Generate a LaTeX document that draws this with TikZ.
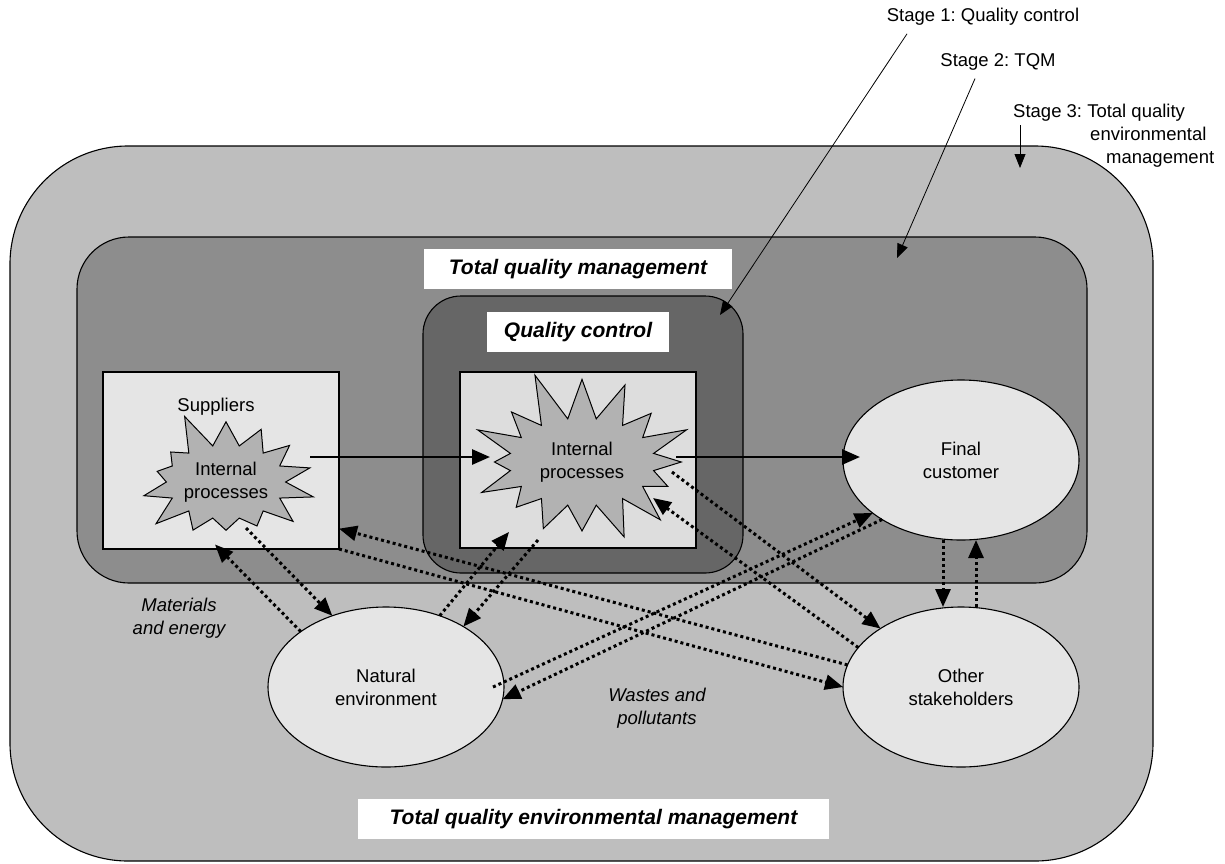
\documentclass[tikz,border=0pt]{standalone}
\usepackage{fontspec}
\setmainfont{Liberation Sans}
\usepackage{tikz}
\usetikzlibrary{arrows.meta}
\usetikzlibrary{shapes.geometric}
\usetikzlibrary{shapes.symbols}
\frenchspacing

\definecolor{tqemgray}{gray}{0.745}
\definecolor{tqmgray}{gray}{0.553}
\definecolor{qcgray}{gray}{0.40}
\definecolor{boxgray}{gray}{0.90}
\definecolor{qcboxgray}{gray}{0.865}
\definecolor{burstgray}{gray}{0.70}

\tikzset{
  stagebox/.style={draw, line width=1.1pt, outer sep=0pt, inner sep=0pt},
  labelbox/.style={fill=white, inner sep=0pt, minimum height=40pt, font=\fontsize{21}{25}\selectfont\bfseries\itshape},
  txt/.style={font=\fontsize{18.5}{23}\selectfont, align=center, inner sep=0pt},
  unitbox/.style={draw, line width=1.1pt, outer sep=0pt, inner sep=0pt, minimum width=236pt},
  party/.style={ellipse, draw, line width=1.1pt, fill=boxgray, outer sep=0pt, inner sep=0pt, minimum width=236pt, minimum height=160pt, font=\fontsize{18.5}{23}\selectfont, align=center},
  burst/.style={starburst, draw, line width=1pt, fill=burstgray, inner sep=0pt, font=\fontsize{18.5}{23}\selectfont, align=center},
  flow/.style={line width=2.8pt, -{Triangle[length=18pt,width=15pt]}},
  exchange/.style={line width=3pt, dash pattern=on 3pt off 3pt, -{Triangle[length=18pt,width=15pt]}},
  pointer/.style={line width=0.8pt, -{Triangle[length=14pt,width=11pt]}}
}

\begin{document}
\begin{tikzpicture}[x=1pt,y=-1pt]
	\useasboundingbox (0,0) rectangle (1225,863);

	\node[stagebox, fill=tqemgray, rounded corners=118pt, minimum width=1143pt, minimum height=715pt] (tqem) at (581.5,503.5) {};
	\node[stagebox, fill=tqmgray, rounded corners=52pt, minimum width=1010pt, minimum height=346pt] (tqm) at (582,410) {};
	\node[stagebox, fill=qcgray, rounded corners=38pt, minimum width=320pt, minimum height=277pt] (qc) at (583,434.5) {};

	\node[labelbox, minimum width=308pt] (tqmlabel) at (578,269) {Total quality management};
	\node[labelbox, minimum width=182pt] (qclabel) at (578,332) {Quality control};
	\node[labelbox, minimum width=471pt] (tqemlabel) at (593.5,819) {Total quality environmental management};

	\node[unitbox, fill=boxgray, minimum height=177pt] (sup) at (221,460.5) {};
	\node[unitbox, fill=qcboxgray, minimum height=176pt] (qcb) at (578,460) {};
	\node[txt] (suplabel) at (216,407) {Suppliers};
	\node[burst, starburst points=14, starburst point height=38pt, random starburst=5, minimum width=182pt, minimum height=150pt] (supb) at (226,482) {Internal\\processes};
	\node[burst, starburst points=16, starburst point height=52pt, random starburst=11, minimum width=250pt, minimum height=192pt] (qcburst) at (582,462) {Internal\\processes};

	\node[party] (fc) at (961,460) {Final\\customer};
	\node[party] (os) at (961,687) {Other\\stakeholders};
	\node[party] (nat) at (386,687) {Natural\\environment};

	\node[txt, font=\fontsize{18.5}{23}\selectfont\itshape] (mat) at (179,618) {Materials\\and energy};
	\node[txt, font=\fontsize{18.5}{23}\selectfont\itshape] (waste) at (657,708) {Wastes and\\pollutants};

	\node[txt] (stA) at (983,17) {Stage 1: Quality control};
	\node[txt] (stB) at (998,62) {Stage 2: TQM};
	\node[txt, align=left, anchor=north west] (stC) at (1013,104) {Stage 3: Total quality\\\hspace*{77pt}environmental\\\hspace*{93pt}management};

	\draw[pointer] ([shift={(-76,8)}]stA.south) -- ([shift={(-23,19)}]qc.north east);
	\draw[pointer] ([shift={(-23,8)}]stB.south) -- ([shift={(-190,21)}]tqm.north east);
	\draw[pointer] ([shift={(7,21)}]stC.north west) -- ([shift={(-133,22)}]tqem.north east);

	\draw[flow] ([shift={(89,-3.5)}]sup.center) -- ([shift={(-88,-3)}]qcb.center);
	\draw[flow] ([shift={(98,-3)}]qcb.center) -- ([shift={(-101,-3)}]fc.center);

	\draw[exchange] (nat.147) -- ([shift={(-6,84)}]sup.center);
	\draw[exchange] ([shift={(25,67.5)}]sup.center) -- (nat.127);
	\draw[exchange] (os.169) -- (sup.-30.5);
	\draw[exchange] (sup.south east) -- (os.west);
	\draw[exchange] (nat.53) -- ([shift={(-69,72)}]qcb.center);
	\draw[exchange] ([shift={(-40,80)}]qcb.center) -- (nat.38);
	\draw[exchange] ([shift={(94,12)}]qcb.center) -- (os.144);
	\draw[exchange] (os.159) -- ([shift={(75,38)}]qcb.center);
	\draw[exchange] ([shift={(107,0)}]nat.center) -- (fc.211);
	\draw[exchange] (fc.217) -- (nat.-6.5);
	\draw[exchange] ([xshift=-18pt]fc.south) -- ([xshift=-18pt]os.north);
	\draw[exchange] ([xshift=15pt]os.north) -- ([xshift=15pt]fc.south);
\end{tikzpicture}
\end{document}
